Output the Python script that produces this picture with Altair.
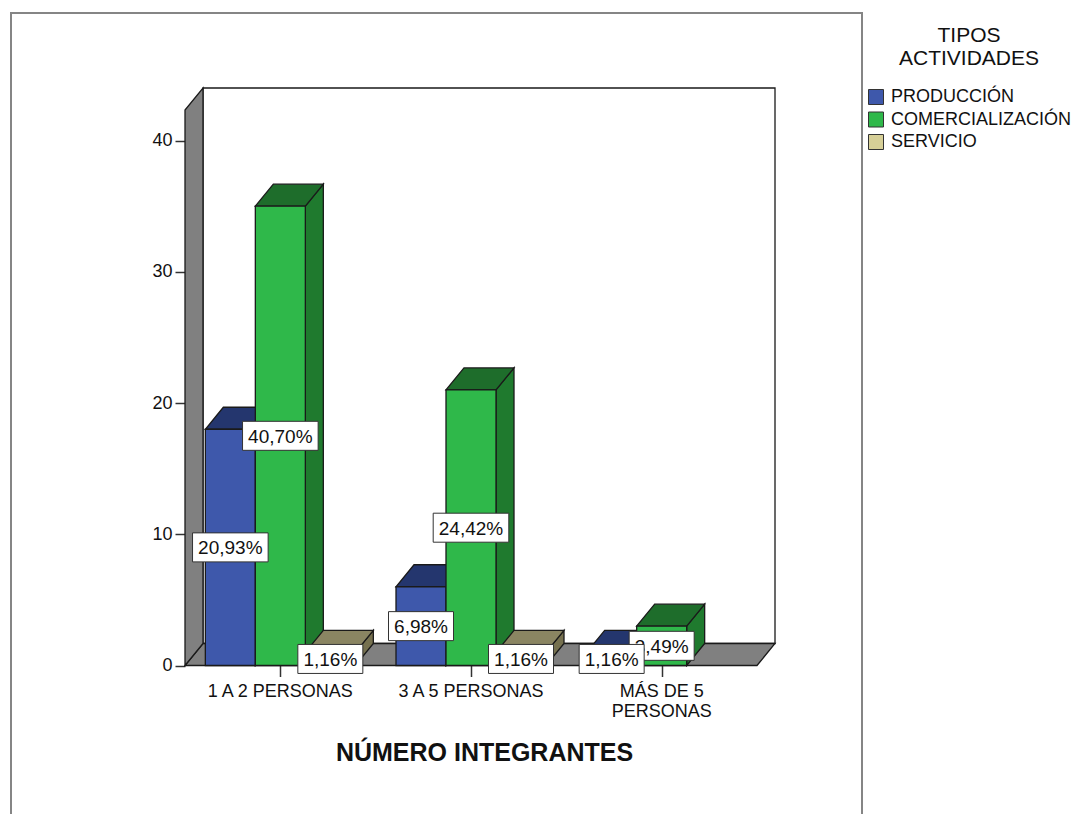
import altair as alt
import pandas as pd

# ---- data ---------------------------------------------------------------
categorias = ["1 A 2 PERSONAS", "3 A 5 PERSONAS", "MÁS DE 5 PERSONAS"]
etiquetas_eje = ["1 A 2 PERSONAS", "3 A 5 PERSONAS", "MÁS DE 5\nPERSONAS"]
tipos = ["PRODUCCIÓN", "COMERCIALIZACIÓN", "SERVICIO"]
produccion = [18, 6, 1]
comercializacion = [35, 21, 3]
servicio = [1, 1, 0]
ticks_y = [0, 10, 20, 30, 40]

# face colours per activity type: front, right side, top
color_frente = ["#3e58ab", "#2fb84a", "#d6cf97"]
color_lado = ["#2b3f80", "#1f7a2e", "#76714f"]
color_tope = ["#24366e", "#1e6d2b", "#8a8562"]

# ---- geometry of the pseudo-3D box ----------------------------------------
PX_X = 572 / 3          # pixels per category step
PX_Y = 13.125           # pixels per count unit
BW = 50 / PX_X          # bar width in category units
DX = 18 / PX_X          # depth offset (x)
DY = 22 / PX_Y          # depth offset (y)
XMAX = 3 + DX
YMAX = 44
W = XMAX * PX_X
H = YMAX * PX_Y

valores = [produccion, comercializacion, servicio]
total = sum(sum(v) for v in valores)

frentes, lados, topes, etiquetas = [], [], [], []
for i, cat in enumerate(categorias):
    centro = i + 0.5
    for j, tipo in enumerate(tipos):
        v = valores[j][i]
        if v == 0:
            continue
        bid = f"{i}-{j}"
        x0 = centro + (j - 1.5) * BW
        x1 = x0 + BW
        frentes.append(dict(id=bid, tipo=tipo, x0=x0, x1=x1, y0=0, y1=v))
        lados += [
            dict(id=bid, fill=color_lado[j], x=x1, lo=0, hi=v),
            dict(id=bid, fill=color_lado[j], x=x1 + DX, lo=DY, hi=v + DY),
        ]
        topes += [
            dict(id=bid, fill=color_tope[j], y=v, a=x0, b=x1),
            dict(id=bid, fill=color_tope[j], y=v + DY, a=x0 + DX, b=x1 + DX),
        ]
        texto = f"{v / total * 100:.2f}".replace(".", ",") + "%"
        media = (len(texto) * 10.6 + 12) / 2 / PX_X
        etiquetas.append(dict(tipo=tipo, texto=texto, cx=(x0 + x1) / 2, cy=v / 2,
                              bx0=(x0 + x1) / 2 - media, bx1=(x0 + x1) / 2 + media,
                              by0=v / 2 - 14.5 / PX_Y, by1=v / 2 + 14.5 / PX_Y))

df_frentes = pd.DataFrame(frentes)
df_lados = pd.DataFrame(lados)
df_topes = pd.DataFrame(topes)
df_etq = pd.DataFrame(etiquetas)
df_piso = pd.DataFrame([dict(y=0, a=0, b=3), dict(y=DY, a=DX, b=3 + DX)])
df_pared_izq = pd.DataFrame([dict(x=0, lo=0, hi=YMAX - DY), dict(x=DX, lo=DY, hi=YMAX)])
df_fondo = pd.DataFrame([dict(x0=DX, x1=XMAX, y0=DY, y1=YMAX)])
df_ejex = pd.DataFrame(dict(pos=[i + 0.5 for i in range(len(categorias))],
                            nombre=etiquetas_eje))

# ---- shared scales and axes -------------------------------------------------
xs = alt.Scale(domain=[0, XMAX], nice=False, zero=False)
ys = alt.Scale(domain=[0, YMAX], nice=False, zero=False)
ax_x = alt.Axis(values=[0.5, 1.5, 2.5], labels=False, domain=False, grid=False,
                tickSize=11, tickColor="#333333", tickWidth=1.5,
                title="NÚMERO INTEGRANTES", titleFontSize=25, titleFontWeight="bold",
                titleColor="#111111", titleBaseline="alphabetic", titleY=95, titleX=299)
ax_y = alt.Axis(values=ticks_y, domain=False, grid=False, tickSize=10,
                tickColor="#333333", tickWidth=1.5, labelFontSize=18,
                labelColor="#111111", labelPadding=3, title=None)

EDGE = dict(stroke="#1a1a1a", strokeWidth=1.3)

marco = alt.Chart(df_fondo).mark_rect(filled=False, stroke="#858585", strokeWidth=2).encode(
    x=alt.value(-174), x2=alt.value(677), y=alt.value(-75), y2=alt.value(760)
)

fondo = alt.Chart(df_fondo).mark_rect(fill="white", **EDGE).encode(
    x=alt.X("x0:Q", scale=xs, axis=ax_x), x2="x1:Q",
    y=alt.Y("y0:Q", scale=ys, axis=ax_y), y2="y1:Q",
)

piso = alt.Chart(df_piso).mark_area(orient="horizontal", fill="#808080", **EDGE).encode(
    y=alt.Y("y:Q", scale=ys, axis=ax_y),
    x=alt.X("a:Q", scale=xs, axis=ax_x, stack=None), x2="b:Q",
)

pared = alt.Chart(df_pared_izq).mark_area(orient="vertical", fill="#808080", **EDGE).encode(
    x=alt.X("x:Q", scale=xs, axis=ax_x),
    y=alt.Y("lo:Q", scale=ys, axis=ax_y, stack=None), y2="hi:Q",
)

caras_lado = alt.Chart(df_lados).mark_area(orient="vertical", **EDGE).encode(
    x=alt.X("x:Q", scale=xs, axis=ax_x),
    y=alt.Y("lo:Q", scale=ys, axis=ax_y, stack=None), y2="hi:Q",
    fill=alt.Fill("fill:N", scale=None), detail="id:N",
)

caras_tope = alt.Chart(df_topes).mark_area(orient="horizontal", **EDGE).encode(
    y=alt.Y("y:Q", scale=ys, axis=ax_y),
    x=alt.X("a:Q", scale=xs, axis=ax_x, stack=None), x2="b:Q",
    fill=alt.Fill("fill:N", scale=None), detail="id:N",
)

caras_frente = alt.Chart(df_frentes).mark_rect(**EDGE).encode(
    x=alt.X("x0:Q", scale=xs, axis=ax_x), x2="x1:Q",
    y=alt.Y("y0:Q", scale=ys, axis=ax_y), y2="y1:Q",
    color=alt.Color(
        "tipo:N",
        scale=alt.Scale(domain=tipos, range=color_frente),
        legend=alt.Legend(
            title=["TIPOS", "ACTIVIDADES"], orient="none", legendX=682, legendY=-63,
            titleFontSize=21, titleFontWeight="normal", titleColor="#111111",
            titleAnchor="middle", titleAlign="center", titleLineHeight=23,
            titlePadding=19, labelFontSize=18, labelColor="#111111", labelLimit=400,
            symbolType="square", symbolSize=225, symbolStrokeColor="#333333",
            symbolStrokeWidth=1, symbolOpacity=1, labelOffset=6, rowPadding=2.5,
        ),
    ),
)


def etiquetas_de(tipo):
    """Value labels (white box + text) for one activity type."""
    base = alt.Chart(df_etq).transform_filter(alt.datum.tipo == tipo)
    caja = base.mark_rect(fill="white", stroke="#333333", strokeWidth=1).encode(
        x=alt.X("bx0:Q", scale=xs, axis=ax_x), x2="bx1:Q",
        y=alt.Y("by0:Q", scale=ys, axis=ax_y), y2="by1:Q",
    )
    txt = base.mark_text(fontSize=19, color="#111111", baseline="middle",
                         align="center", dy=1).encode(
        x=alt.X("cx:Q", scale=xs, axis=ax_x),
        y=alt.Y("cy:Q", scale=ys, axis=ax_y),
        text="texto:N",
    )
    return [caja, txt]


# comercialización labels sit underneath the producción ones where they meet
capas_etq = (etiquetas_de("COMERCIALIZACIÓN") + etiquetas_de("PRODUCCIÓN")
             + etiquetas_de("SERVICIO"))

nombres_x = alt.Chart(df_ejex).mark_text(fontSize=18, color="#111111", align="center",
                                         baseline="alphabetic", dy=31, lineBreak="\n",
                                         lineHeight=20).encode(
    x=alt.X("pos:Q", scale=xs, axis=ax_x),
    y=alt.datum(0, scale=ys, axis=ax_y),
    text="nombre:N",
)

chart = alt.layer(
    marco, fondo, piso, pared, caras_lado, caras_tope, caras_frente, *capas_etq, nombres_x
).properties(
    width=W, height=H,
    autosize=alt.AutoSizeParams(type="none"),
    padding={"left": 185, "top": 88, "right": 1083 - 185 - W, "bottom": 814 - 88 - H},
).configure(font="Liberation Sans", background="white").configure_view(stroke=None)

chart.save("out.html", embed_options={"renderer": "svg", "actions": False})
